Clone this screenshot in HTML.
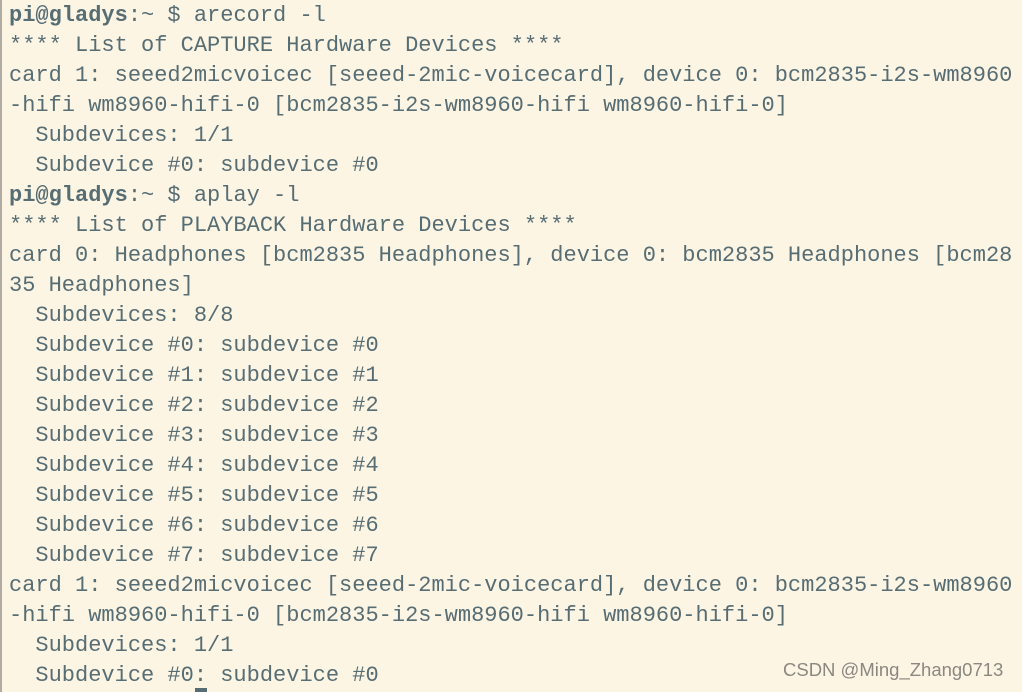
<!DOCTYPE html>
<html><head><meta charset="utf-8"><style>
html,body{margin:0;padding:0;}
body{width:1022px;height:692px;background:#fdf5e4;overflow:hidden;position:relative;border-left:2px solid #b0aca4;box-sizing:border-box;}
pre{margin:0;position:absolute;left:7px;top:1px;font-family:"Liberation Mono",monospace;font-size:22px;line-height:30px;color:#566d74;white-space:pre;}
b{font-weight:bold;}
.wm{position:absolute;left:781px;top:659px;font-family:"Liberation Sans",sans-serif;font-size:18.5px;color:#8a8880;}
.cur{position:absolute;left:193px;top:688px;width:12px;height:4px;background:#566d74;}
</style></head><body>
<pre><b>pi@gladys</b>:~ $ arecord -l
**** List of CAPTURE Hardware Devices ****
card 1: seeed2micvoicec [seeed-2mic-voicecard], device 0: bcm2835-i2s-wm8960
-hifi wm8960-hifi-0 [bcm2835-i2s-wm8960-hifi wm8960-hifi-0]
  Subdevices: 1/1
  Subdevice #0: subdevice #0
<b>pi@gladys</b>:~ $ aplay -l
**** List of PLAYBACK Hardware Devices ****
card 0: Headphones [bcm2835 Headphones], device 0: bcm2835 Headphones [bcm28
35 Headphones]
  Subdevices: 8/8
  Subdevice #0: subdevice #0
  Subdevice #1: subdevice #1
  Subdevice #2: subdevice #2
  Subdevice #3: subdevice #3
  Subdevice #4: subdevice #4
  Subdevice #5: subdevice #5
  Subdevice #6: subdevice #6
  Subdevice #7: subdevice #7
card 1: seeed2micvoicec [seeed-2mic-voicecard], device 0: bcm2835-i2s-wm8960
-hifi wm8960-hifi-0 [bcm2835-i2s-wm8960-hifi wm8960-hifi-0]
  Subdevices: 1/1
  Subdevice #0: subdevice #0</pre>
<div class="wm">CSDN @Ming_Zhang0713</div>
<div class="cur"></div>
</body></html>
